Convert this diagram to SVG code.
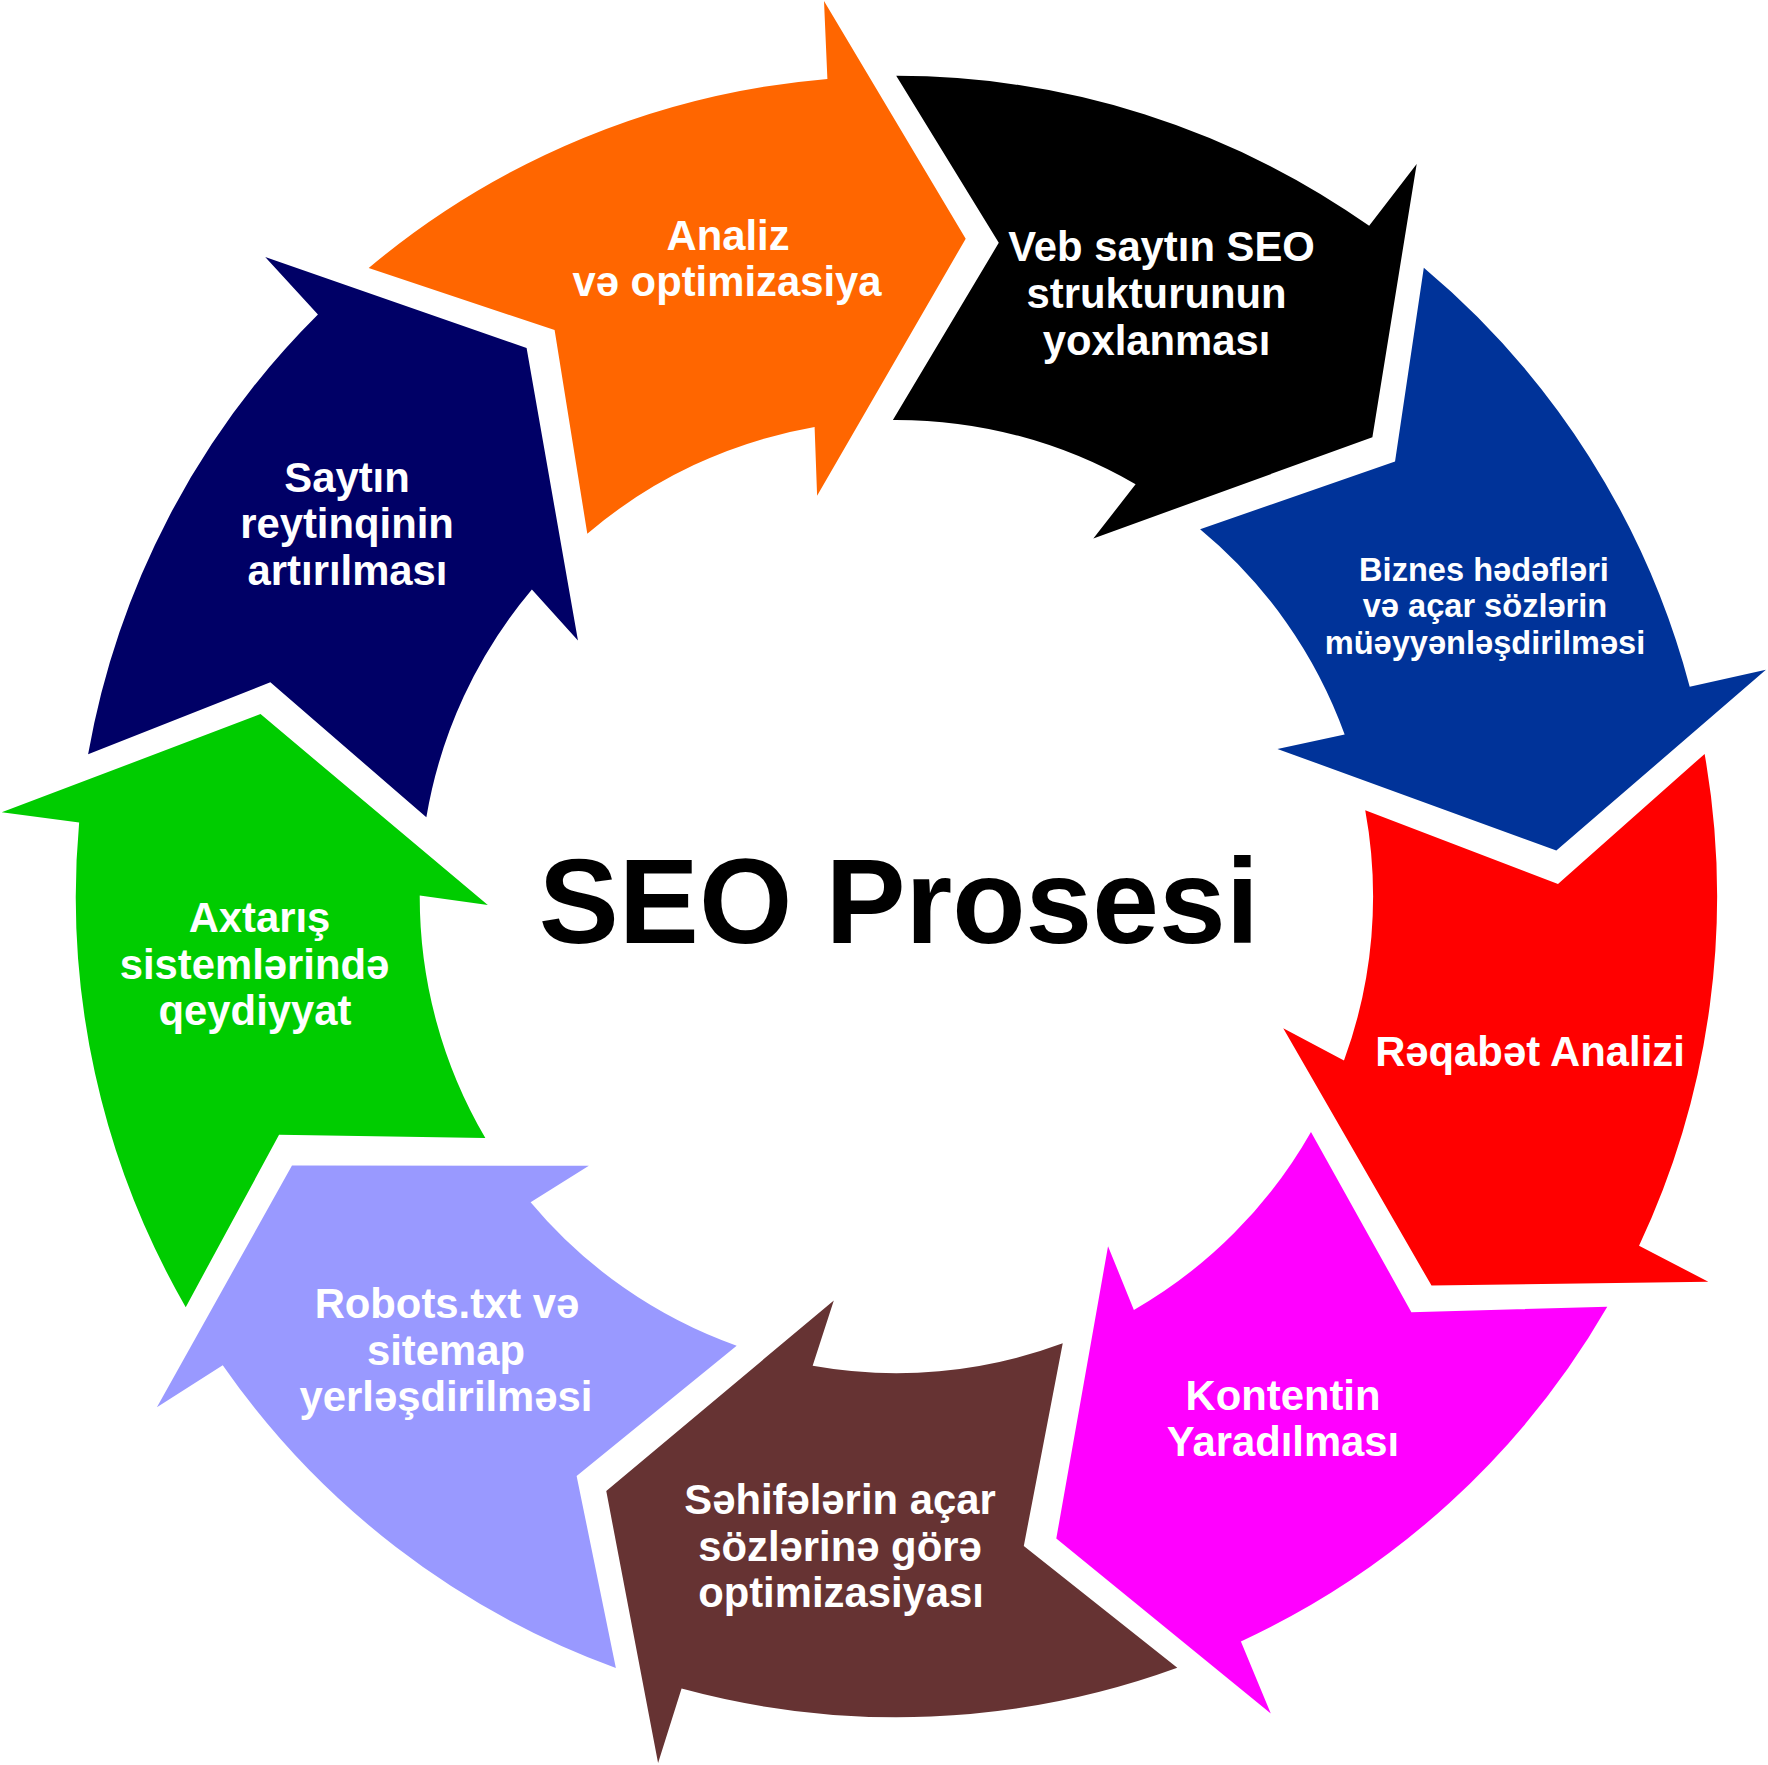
<svg xmlns="http://www.w3.org/2000/svg" xmlns:xlink="http://www.w3.org/1999/xlink" width="1768" height="1765" viewBox="0 0 1768 1765">
<style>
.lbl{font-family:"Liberation Sans",Arial,Helvetica,sans-serif;font-weight:bold;fill:#ffffff;text-anchor:middle}
.big{font-size:41.8px}
.small{font-size:32.6px}
.title{font-family:"Liberation Sans",Arial,Helvetica,sans-serif;font-weight:bold;font-size:120px;fill:#000000;text-anchor:middle}
</style>
<defs>
<path id="arrow" d="M368.7,268.0 A820.7,820.7 0 0 1 827.4,78.9 L824.0,0.9 L965.7,238.7 L817.1,495.7 L814.6,427.0 A476.7,476.7 0 0 0 587.3,533.7 L554.6,330.0 Z"/>
</defs>
<rect width="1768" height="1765" fill="#ffffff"/>
<g id="node-analiz">
<use xlink:href="#arrow" href="#arrow" fill="#FF6600"/>
<text class="lbl big" x="728" y="250">Analiz</text>
<text class="lbl big" x="727" y="296">və optimizasiya</text>
</g>
<g id="node-veb">
<use xlink:href="#arrow" href="#arrow" fill="#000000" transform="rotate(40 896.4 896.6)"/>
<text class="lbl big" x="1161.5" y="261">Veb saytın SEO</text>
<text class="lbl big" x="1156.5" y="308">strukturunun</text>
<text class="lbl big" x="1156.5" y="355">yoxlanması</text>
</g>
<g id="node-biznes">
<use xlink:href="#arrow" href="#arrow" fill="#003399" transform="rotate(80 896.4 896.6)"/>
<text class="lbl small" x="1484" y="581">Biznes hədəfləri</text>
<text class="lbl small" x="1485" y="617">və açar sözlərin</text>
<text class="lbl small" x="1485" y="654">müəyyənləşdirilməsi</text>
</g>
<g id="node-reqabet">
<use xlink:href="#arrow" href="#arrow" fill="#FF0000" transform="rotate(120 896.4 896.6)"/>
<text class="lbl big" x="1530" y="1065.5">Rəqabət Analizi</text>
</g>
<g id="node-kontent">
<use xlink:href="#arrow" href="#arrow" fill="#FF00FF" transform="rotate(160 896.4 896.6)"/>
<text class="lbl big" x="1283" y="1409.5">Kontentin</text>
<text class="lbl big" x="1283" y="1456">Yaradılması</text>
</g>
<g id="node-sehife">
<use xlink:href="#arrow" href="#arrow" fill="#663333" transform="rotate(200 896.4 896.6)"/>
<text class="lbl big" x="840" y="1514">Səhifələrin açar</text>
<text class="lbl big" x="840" y="1560.5">sözlərinə görə</text>
<text class="lbl big" x="841" y="1607">optimizasiyası</text>
</g>
<g id="node-robots">
<use xlink:href="#arrow" href="#arrow" fill="#9999FF" transform="rotate(240 896.4 896.6)"/>
<text class="lbl big" x="447" y="1318">Robots.txt və</text>
<text class="lbl big" x="446" y="1365">sitemap</text>
<text class="lbl big" x="446" y="1411">yerləşdirilməsi</text>
</g>
<g id="node-axtaris">
<use xlink:href="#arrow" href="#arrow" fill="#00CC00" transform="rotate(280 896.4 896.6)"/>
<text class="lbl big" x="259.5" y="932">Axtarış</text>
<text class="lbl big" x="254.5" y="978.7">sistemlərində</text>
<text class="lbl big" x="255" y="1025">qeydiyyat</text>
</g>
<g id="node-reyting">
<use xlink:href="#arrow" href="#arrow" fill="#000066" transform="rotate(320 896.4 896.6)"/>
<text class="lbl big" x="347" y="491.6">Saytın</text>
<text class="lbl big" x="347" y="538">reytinqinin</text>
<text class="lbl big" x="347.5" y="584.7">artırılması</text>
</g>
<g id="node-title">
<text class="title" x="899" y="943">SEO Prosesi</text>
</g>
</svg>
